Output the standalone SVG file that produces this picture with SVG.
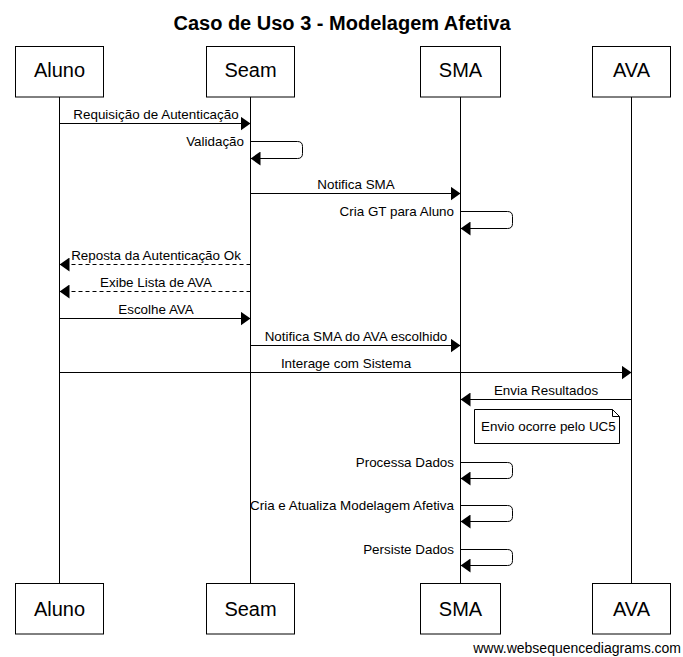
<svg xmlns="http://www.w3.org/2000/svg" width="683" height="657" viewBox="0 0 683 657">
<style>
  text { font-family: "Liberation Sans", Arial, sans-serif; fill: #000; }
  .title { font-size: 20px; font-weight: bold; text-anchor: middle; }
  .actor rect { fill: #fff; stroke: #000; stroke-width: 1; }
  .actor text { font-size: 20px; text-anchor: middle; }
  .life { stroke: #000; stroke-width: 1; }
  .msg { stroke: #000; stroke-width: 1; fill: none; marker-end: url(#ah); }
  .dash { stroke-dasharray: 4,3; }
  .lbl { font-size: 13.4px; text-anchor: middle; }
  .slbl { font-size: 13.4px; text-anchor: end; }
  .note path { fill: #fff; stroke: #000; stroke-width: 1; }
  .note text { font-size: 13.4px; }
  .wm { font-size: 14px; text-anchor: end; }
</style>
<defs>
  <marker id="ah" markerWidth="10" markerHeight="14" refX="10" refY="7" orient="auto" markerUnits="userSpaceOnUse">
    <path d="M0,0 L10,7 L0,14 z" fill="#000"/>
  </marker>
</defs>
<rect width="683" height="657" fill="#fff"/>
<text class="title" x="342" y="30">Caso de Uso 3 - Modelagem Afetiva</text>

<g id="lifelines">
  <line class="life" x1="59.5" y1="97" x2="59.5" y2="583.5"/>
  <line class="life" x1="250.5" y1="97" x2="250.5" y2="583.5"/>
  <line class="life" x1="460.5" y1="97" x2="460.5" y2="583.5"/>
  <line class="life" x1="631.5" y1="97" x2="631.5" y2="583.5"/>
</g>

<g id="aluno" class="actor">
  <rect x="15.5" y="46.5" width="88" height="50.5"/>
  <text x="59.5" y="77">Aluno</text>
  <rect x="15.5" y="583.5" width="88" height="50.5"/>
  <text x="59.5" y="616">Aluno</text>
</g>
<g id="seam" class="actor">
  <rect x="206.5" y="46.5" width="88" height="50.5"/>
  <text x="250.5" y="77">Seam</text>
  <rect x="206.5" y="583.5" width="88" height="50.5"/>
  <text x="250.5" y="616">Seam</text>
</g>
<g id="sma" class="actor">
  <rect x="420.5" y="46.5" width="80" height="50.5"/>
  <text x="460.5" y="77">SMA</text>
  <rect x="420.5" y="583.5" width="80" height="50.5"/>
  <text x="460.5" y="616">SMA</text>
</g>
<g id="ava" class="actor">
  <rect x="592.5" y="46.5" width="78" height="50.5"/>
  <text x="631.5" y="77">AVA</text>
  <rect x="592.5" y="583.5" width="78" height="50.5"/>
  <text x="631.5" y="616">AVA</text>
</g>

<g id="connectors">
  <line class="msg" x1="59.5" y1="123.5" x2="250.5" y2="123.5"/>
  <text class="lbl" x="156" y="119">Requisição de Autenticação</text>

  <path class="msg" d="M250.5,141.5 H297.5 Q302.5,141.5 302.5,146.5 V153.5 Q302.5,158.5 297.5,158.5 H250.5"/>
  <text class="slbl" x="244" y="146">Validação</text>

  <line class="msg" x1="250.5" y1="193.5" x2="460.5" y2="193.5"/>
  <text class="lbl" x="356" y="189">Notifica SMA</text>

  <path class="msg" d="M460.5,211.5 H507.5 Q512.5,211.5 512.5,216.5 V223.5 Q512.5,228.5 507.5,228.5 H460.5"/>
  <text class="slbl" x="454" y="216">Cria GT para Aluno</text>

  <line class="msg dash" x1="250.5" y1="264.5" x2="59.5" y2="264.5"/>
  <text class="lbl" x="156" y="260">Reposta da Autenticação Ok</text>

  <line class="msg dash" x1="250.5" y1="291.5" x2="59.5" y2="291.5"/>
  <text class="lbl" x="156" y="287">Exibe Lista de AVA</text>

  <line class="msg" x1="59.5" y1="318.5" x2="250.5" y2="318.5"/>
  <text class="lbl" x="156" y="314">Escolhe AVA</text>

  <line class="msg" x1="250.5" y1="345.5" x2="460.5" y2="345.5"/>
  <text class="lbl" x="356" y="341">Notifica SMA do AVA escolhido</text>

  <line class="msg" x1="59.5" y1="372.5" x2="631.5" y2="372.5"/>
  <text class="lbl" x="346" y="368">Interage com Sistema</text>

  <line class="msg" x1="631.5" y1="399.5" x2="460.5" y2="399.5"/>
  <text class="lbl" x="546" y="395">Envia Resultados</text>

  <path class="msg" d="M460.5,462.5 H507.5 Q512.5,462.5 512.5,467.5 V473.5 Q512.5,478.5 507.5,478.5 H460.5"/>
  <text class="slbl" x="454" y="467">Processa Dados</text>

  <path class="msg" d="M460.5,505.5 H507.5 Q512.5,505.5 512.5,510.5 V516.5 Q512.5,521.5 507.5,521.5 H460.5"/>
  <text class="slbl" x="454" y="510">Cria e Atualiza Modelagem Afetiva</text>

  <path class="msg" d="M460.5,549.5 H507.5 Q512.5,549.5 512.5,554.5 V560.5 Q512.5,565.5 507.5,565.5 H460.5"/>
  <text class="slbl" x="454" y="554">Persiste Dados</text>
</g>

<g id="note1" class="note">
  <path d="M474.5,409.5 H612.5 L619.5,416.5 V443.5 H474.5 Z M612.5,409.5 V416.5 H619.5"/>
  <text x="481" y="431">Envio ocorre pelo UC5</text>
</g>

<text class="wm" x="681" y="653">www.websequencediagrams.com</text>
</svg>
